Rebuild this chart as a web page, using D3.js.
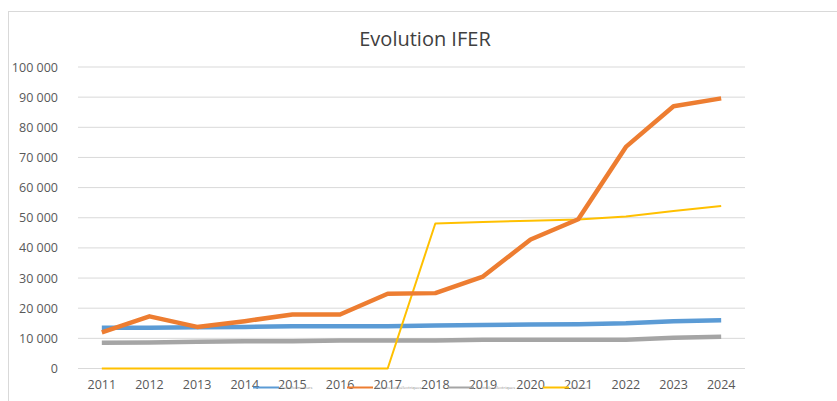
<!DOCTYPE html>
<html>
<head>
<meta charset="utf-8">
<script src="https://cdn.jsdelivr.net/npm/d3@7"></script>
<style>
  body { margin: 0; background: #fff; }
  text { font-family: "Open Sans", "DejaVu Sans", sans-serif; }
</style>
</head>
<body>
<script>
const years = ["2011","2012","2013","2014","2015","2016","2017","2018","2019","2020","2021","2022","2023","2024"];
const yTicks = [0, 10000, 20000, 30000, 40000, 50000, 60000, 70000, 80000, 90000, 100000];
// series
const transfo = [13500, 13500, 13700, 13800, 14000, 14000, 14000, 14300, 14400, 14600, 14700, 15000, 15700, 16000];
const radio = [12000, 17300, 13800, 15700, 17900, 17900, 24800, 25000, 30500, 42800, 49500, 73500, 87000, 89600];
const centrales = [8500, 8600, 8900, 9000, 9000, 9300, 9300, 9300, 9500, 9500, 9500, 9500, 10200, 10500];
const eolien = [0, 0, 0, 0, 0, 0, 0, 48100, 48600, 49000, 49400, 50400, 52200, 53900];
const seriesNames = ["Transformateurs", "Stations radioélectriques", "Centrales électriques", "Éoliennes"];

const width = 837, height = 401;
const plotLeft = 78, plotRight = 745, plotTop = 67, plotBottom = 368.5; //plot area

const svg = d3.select("body").append("svg")
  .attr("width", width)
  .attr("height", height);

// chart frame
svg.append("rect")
  .attr("x", 8.5).attr("y", 11.5)
  .attr("width", 900).attr("height", 500)
  .attr("fill", "none")
  .attr("stroke", "#d9d9d9");

const x = d3.scaleBand().domain(years).range([plotLeft, plotRight]);
const y = d3.scaleLinear().domain([0, 100000]).range([plotBottom, plotTop]);
const fmt = v => d3.format(",")(v).replace(/,/g, " ");

// gridlines
svg.append("g").selectAll("line")
  .data(yTicks)
  .join("line")
  .attr("x1", plotLeft).attr("x2", plotRight)
  .attr("y1", d => y(d)).attr("y2", d => y(d))
  .attr("stroke", "#d9d9d9")
  .attr("stroke-width", 1);

// y axis
const yAxis = d3.axisLeft(y).tickValues(yTicks).tickFormat(fmt).tickSize(0).tickPadding(20);
svg.append("g")
  .attr("transform", "translate(" + plotLeft + ",0)")
  .call(yAxis)
  .call(g => g.select(".domain").remove())
  .selectAll("text")
  .attr("font-size", 12.5)
  .attr("fill", "#595959")
  .style("font-family", "'Open Sans', sans-serif");

// x axis
const xAxis = d3.axisBottom(x).tickSize(0).tickPadding(12);
svg.append("g")
  .attr("transform", "translate(0," + plotBottom + ")")
  .call(xAxis)
  .call(g => g.select(".domain").remove())
  .selectAll("text")
  .attr("font-size", 12.5)
  .attr("fill", "#595959")
  .style("font-family", "'Open Sans', sans-serif");

const line = d3.line()
  .x((d, i) => x(years[i]) + x.bandwidth() / 2)
  .y(d => y(d));

const series = [
  {vals: transfo, color: "#5b9bd5", w: 4.5},
  {vals: radio, color: "#ed7d31", w: 4.5},
  {vals: centrales, color: "#a5a5a5", w: 4.5},
  {vals: eolien, color: "#ffc000", w: 2}
];
// draw order: grey, blue, yellow, orange on top
[2, 0, 3, 1].forEach(k => {
  svg.append("path")
    .attr("d", line(series[k].vals))
    .attr("fill", "none")
    .attr("stroke", series[k].color)
    .attr("stroke-width", series[k].w)
    .attr("stroke-linejoin", "round");
});

// title
svg.append("text")
  .attr("x", 425).attr("y", 46)
  .attr("text-anchor", "middle")
  .attr("font-size", 20)
  .attr("fill", "#404040")
  .text("Evolution IFER");

// legend (overlapping the x labels, tiny text as in the original)
const legX = [253, 347, 448, 543];
const legend = svg.append("g");
series.forEach((s, i) => {
  legend.append("line")
    .attr("x1", legX[i]).attr("x2", legX[i] + 26)
    .attr("y1", 387.5).attr("y2", 387.5)
    .attr("stroke", s.color)
    .attr("stroke-width", 2);
  legend.append("text")
    .attr("x", legX[i] + 28).attr("y", 389)
    .attr("font-size", 4)
    .attr("fill", "#8c8c8c")
    .text(seriesNames[i]);
});
</script>
</body>
</html>
